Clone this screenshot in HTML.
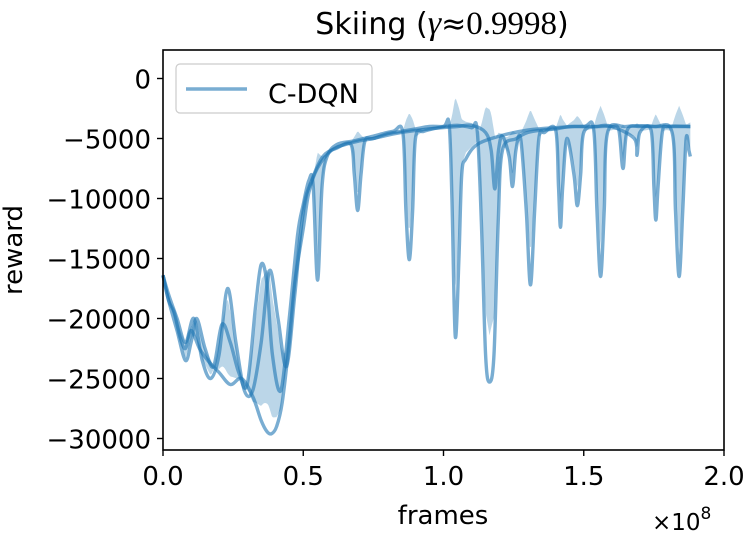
<!DOCTYPE html>
<html><head><meta charset="utf-8"><style>
html,body{margin:0;padding:0;background:#fff;}
svg{display:block;font-family:"DejaVu Sans","Liberation Sans",sans-serif;}
</style></head><body>
<svg id="chart" width="749" height="534" viewBox="0 0 749 534" xmlns="http://www.w3.org/2000/svg">
<text x="442" y="34" font-size="30" text-anchor="middle">Skiing (<tspan font-family="Liberation Serif,serif" font-style="italic" font-size="34">γ</tspan>≈<tspan font-family="Liberation Serif,serif" font-size="33">0.9998</tspan>)</text>
<g id="plot"></g>
<rect x="163" y="50" width="561" height="400" fill="none" stroke="#000" stroke-width="1.6"/>
<g id="xticks"></g>
<g id="yticks"></g>
<text x="443" y="524" font-size="26" text-anchor="middle">frames</text>
<text x="652" y="530" font-size="23">×10<tspan dy="-11" font-size="17">8</tspan></text>
<text transform="translate(22,250) rotate(-90)" font-size="26" text-anchor="middle">reward</text>
<g>
<rect x="176" y="64" width="196" height="49" rx="4" fill="#fff" fill-opacity="0.8" stroke="#ccc" stroke-width="1.2"/>
<line x1="186" y1="89" x2="247" y2="89" stroke="#1f77b4" stroke-opacity="0.6" stroke-width="3.5"/>
<text x="268" y="103" font-size="27">C-DQN</text>
</g>
</svg>
<script>
const xTicks=[0,0.5,1.0,1.5,2.0];
const xTickLabels=["0.0","0.5","1.0","1.5","2.0"];
const yTicks=[0,-5000,-10000,-15000,-20000,-25000,-30000];
const yTickLabels=["0","\u22125000","\u221210000","\u221215000","\u221220000","\u221225000","\u221230000"];
const fA=[0,0.02,0.04,0.06,0.08,0.1,0.13,0.16,0.2,0.24,0.28,0.32,0.35,0.37,0.387,0.405,0.425,0.45,0.47,0.5,0.52,0.55,0.6,0.65,0.7,0.75,0.8,0.85,0.9,0.95,1.0,1.05,1.1,1.12,1.135,1.15,1.164,1.18,1.195,1.21,1.26,1.3,1.35,1.4,1.45,1.5,1.55,1.6,1.625,1.64,1.655,1.7,1.75,1.8,1.85,1.88];
const vA=[-16400,-18500,-19500,-21500,-22500,-21000,-22500,-23500,-24500,-25500,-25000,-26500,-28500,-29400,-29600,-29000,-27000,-22000,-17000,-12500,-9500,-7500,-6000,-5500,-5200,-5000,-4600,-4400,-4200,-4000,-4000,-3900,-4100,-4300,-12000,-23000,-25300,-23000,-12000,-6000,-5000,-4500,-4300,-4200,-4000,-4000,-4000,-4000,-4300,-7500,-4300,-4000,-4000,-4000,-4000,-4000];
const fB=[0,0.02,0.05,0.08,0.1,0.12,0.15,0.18,0.21,0.24,0.27,0.3,0.33,0.35,0.37,0.39,0.42,0.45,0.48,0.5,0.52,0.535,0.551,0.567,0.585,0.62,0.68,0.75,0.82,0.855,0.866,0.878,0.89,0.9,0.93,1.0,1.02,1.03,1.042,1.055,1.065,1.08,1.12,1.2,1.3,1.4,1.5,1.535,1.547,1.56,1.573,1.585,1.65,1.75,1.815,1.827,1.84,1.853,1.865,1.875,1.88];
const vB=[-16400,-18500,-21000,-23500,-22000,-20000,-22500,-24000,-20500,-22000,-24500,-25500,-19000,-15500,-17000,-23000,-26000,-20000,-13000,-10500,-8500,-8800,-16800,-9000,-6500,-5500,-5200,-4800,-4400,-4500,-11000,-15100,-11000,-5000,-4400,-4000,-3800,-10000,-21500,-15000,-8000,-6700,-5500,-4800,-4300,-4100,-4000,-4200,-11000,-16500,-11000,-4500,-4000,-4000,-4500,-11000,-16500,-11000,-5000,-6000,-6500];
const fC=[0,0.02,0.05,0.08,0.11,0.14,0.17,0.2,0.23,0.26,0.29,0.32,0.35,0.38,0.41,0.44,0.47,0.5,0.53,0.57,0.62,0.67,0.682,0.694,0.706,0.72,0.75,0.85,0.95,1.05,1.1,1.15,1.17,1.183,1.196,1.21,1.234,1.246,1.258,1.275,1.295,1.31,1.325,1.34,1.36,1.4,1.41,1.417,1.425,1.44,1.465,1.477,1.489,1.5,1.55,1.6,1.68,1.69,1.7,1.74,1.75,1.757,1.765,1.78,1.8,1.88];
const vC=[-16400,-18000,-20000,-22000,-20000,-23500,-25000,-23000,-17500,-22000,-26000,-26000,-22000,-16000,-20000,-24000,-18000,-11000,-8500,-6500,-5800,-5500,-8000,-11000,-8000,-5200,-5000,-4500,-4200,-4000,-3900,-4500,-6000,-9200,-6000,-4800,-6500,-9000,-6000,-5000,-11000,-17200,-11000,-5000,-4500,-4300,-9000,-12400,-9000,-5000,-8000,-10600,-8000,-4500,-4000,-4000,-5000,-6400,-4500,-4300,-9000,-11800,-9000,-4500,-4000,-4000];

const NS="http://www.w3.org/2000/svg";
const X0=163,X1=724,Y0=78.5,PX=12/1000;
function xs(f){return X0+f*(X1-X0)/2;}
function ys(v){return Y0-v*PX;}
function interp(fs,vs,f){
  if(f<=fs[0])return vs[0];
  for(let i=1;i<fs.length;i++){if(f<=fs[i]){const t=(f-fs[i-1])/(fs[i]-fs[i-1]);return vs[i-1]+t*(vs[i]-vs[i-1]);}}
  return vs[vs.length-1];
}
function smoothPath(pts){
  let d='M'+pts[0][0].toFixed(2)+','+pts[0][1].toFixed(2);
  for(let i=0;i<pts.length-1;i++){
    const p0=pts[Math.max(0,i-1)],p1=pts[i],p2=pts[i+1],p3=pts[Math.min(pts.length-1,i+2)];
    const c1=[p1[0]+(p2[0]-p0[0])/6,p1[1]+(p2[1]-p0[1])/6];
    const c2=[p2[0]-(p3[0]-p1[0])/6,p2[1]-(p3[1]-p1[1])/6];
    d+='C'+c1.map(v=>v.toFixed(2)).join(',')+' '+c2.map(v=>v.toFixed(2)).join(',')+' '+p2[0].toFixed(2)+','+p2[1].toFixed(2);
  }
  return d;
}
const plot=document.getElementById('plot');
const series=[[fA,vA],[fB,vB],[fC,vC]];
let up=[],lo=[];
for(let f=0;f<=1.88001;f+=0.004){
  const vals=series.map(s=>interp(s[0],s[1],f));
  const m=vals.reduce((a,b)=>a+b,0)/3;
  const sd=Math.sqrt(vals.reduce((a,b)=>a+(b-m)*(b-m),0)/3);
  up.push([xs(f),ys(m+sd)]);lo.push([xs(f),ys(m-sd)]);
}
const band=document.createElementNS(NS,'path');


band.setAttribute('d','M'+up.map(p=>p.join(',')).join('L')+'L'+lo.reverse().map(p=>p.join(',')).join('L')+'Z');
band.setAttribute('fill','#1f77b4');band.setAttribute('fill-opacity','0.3');
plot.appendChild(band);
series.forEach((s,k)=>{
  const p=document.createElementNS(NS,'path');
  
  
  p.setAttribute('d',smoothPath(s[0].map((f,i)=>[xs(f),ys(s[1][i])])));
  p.setAttribute('fill','none');p.setAttribute('stroke','#1f77b4');
  p.setAttribute('stroke-opacity','0.6');p.setAttribute('stroke-width','3.4');
  p.setAttribute('stroke-linejoin','round');
  plot.appendChild(p);
});
const xg=document.getElementById('xticks');
xTicks.forEach((t,i)=>{
  const l=document.createElementNS(NS,'line');
  
  
  l.setAttribute('x1',xs(t));l.setAttribute('x2',xs(t));l.setAttribute('y1',450);l.setAttribute('y2',456);
  l.setAttribute('stroke','#000');l.setAttribute('stroke-width','1.4');xg.appendChild(l);
  const tx=document.createElementNS(NS,'text');
  
  
  tx.setAttribute('x',xs(t));tx.setAttribute('y',485);tx.setAttribute('font-size','26');
  tx.setAttribute('text-anchor','middle');tx.textContent=xTickLabels[i];xg.appendChild(tx);
});
const yg=document.getElementById('yticks');
yTicks.forEach((t,i)=>{
  const l=document.createElementNS(NS,'line');
  
  
  l.setAttribute('x1',157);l.setAttribute('x2',163);l.setAttribute('y1',ys(t));l.setAttribute('y2',ys(t));
  l.setAttribute('stroke','#000');l.setAttribute('stroke-width','1.4');yg.appendChild(l);
  const tx=document.createElementNS(NS,'text');
  
  
  tx.setAttribute('x',151);tx.setAttribute('y',ys(t)+10);tx.setAttribute('font-size','26');
  tx.setAttribute('text-anchor','end');tx.textContent=yTickLabels[i];yg.appendChild(tx);
});
</script>
</body></html>
